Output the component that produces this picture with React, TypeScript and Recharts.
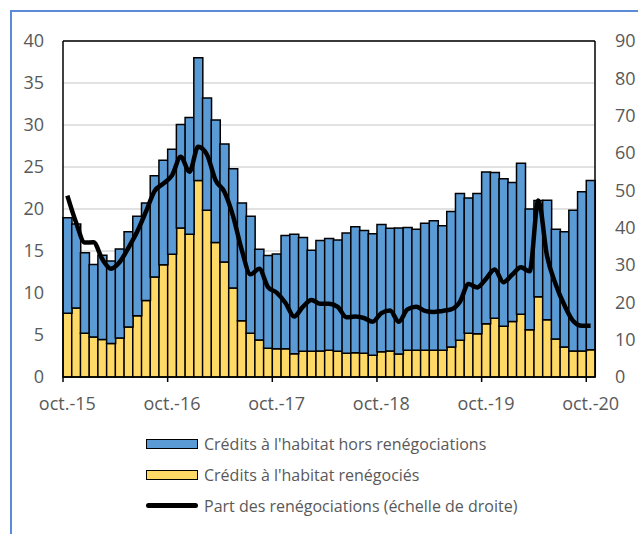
import React from 'react';
import {
  ComposedChart,
  Bar,
  Line,
  XAxis,
  YAxis,
  CartesianGrid,
  Legend,
  ReferenceLine,
} from 'recharts';

// Month abbreviations and years used to build the monthly categories (oct.-15 ... oct.-20)
const MONTH_NAMES = ['oct.', 'nov.', 'déc.', 'janv.', 'févr.', 'mars', 'avr.', 'mai', 'juin', 'juil.', 'août', 'sept.'];
const FIRST_YEAR = 15;
const N_MONTHS = 61;
const months: string[] = Array.from({ length: N_MONTHS }, (_, i) => {
  const yr = FIRST_YEAR + Math.floor((i + 9) / 12);
  return `${MONTH_NAMES[i % 12]}-${yr}`;
});

// Crédits à l'habitat renégociés (Md€, left scale)
const renegocies = [
  7.6, 8.2, 5.2, 4.75, 4.45, 4.0, 4.65, 5.95, 7.3, 9.1, 11.9, 13.35,
  14.6, 17.75, 17.0, 23.4, 19.85, 16.0, 13.7, 10.6, 6.7, 5.2, 4.4, 3.43,
  3.35, 3.35, 2.76, 3.06, 3.06, 3.1, 3.17, 3.06, 2.82, 2.9, 2.82, 2.6,
  3.02, 3.1, 2.74, 3.17, 3.17, 3.17, 3.17, 3.17, 3.57, 4.37, 5.2, 5.16,
  6.35, 6.98, 6.03, 6.6, 7.46, 5.63, 9.56, 6.83, 4.52, 3.57, 3.1, 3.1,
  3.25,
];

// Crédits à l'habitat hors renégociations (Md€, left scale)
const horsRenegociations = [
  11.35, 10.0, 9.6, 8.65, 10.05, 9.8, 10.6, 11.35, 11.85, 11.6, 12.05, 12.45,
  12.5, 12.3, 13.9, 14.6, 13.35, 14.6, 14.05, 14.2, 14.0, 13.95, 10.8, 11.02,
  11.3, 13.5, 14.24, 13.54, 12.04, 13.15, 13.33, 13.24, 14.33, 15.0, 14.63, 14.45,
  15.13, 14.6, 15.01, 14.63, 14.43, 15.13, 15.43, 14.83, 16.13, 17.48, 16.1, 16.69,
  18.05, 17.37, 17.57, 16.55, 17.99, 14.37, 11.44, 14.22, 13.08, 13.73, 16.75, 18.95,
  20.15,
];

// Part des renégociations (%, right scale)
const partRenegociations = [
  48.6, 41.4, 36.0, 36.1, 31.6, 29.0, 30.8, 34.6, 38.9, 44.2, 49.8, 51.8,
  54.0, 59.0, 55.0, 61.7, 59.6, 52.7, 49.6, 43.1, 34.0, 27.5, 29.0, 24.1,
  22.6, 19.9, 16.2, 18.8, 20.6, 19.6, 19.6, 18.8, 16.0, 16.2, 15.8, 14.8,
  17.1, 17.8, 14.8, 18.1, 18.8, 17.7, 17.4, 17.7, 18.1, 20.1, 24.9, 24.0,
  26.3, 28.8, 25.4, 27.4, 29.4, 28.3, 47.3, 32.4, 24.8, 19.2, 15.0, 13.7,
  13.7,
];

const leftTicks = [0, 5, 10, 15, 20, 25, 30, 35, 40];
const rightTicks = [0, 10, 20, 30, 40, 50, 60, 70, 80, 90];
// Category indices (every October) where year boundaries / grid lines fall
const yearStartIndices = [12, 24, 36, 48, 60];

const SERIES_NAMES = {
  hors: "Crédits à l'habitat hors renégociations",
  reneg: "Crédits à l'habitat renégociés",
  part: 'Part des renégociations (échelle de droite)',
};

const data = months.map((m, i) => ({
  month: m,
  reneg: renegocies[i],
  hors: horsRenegociations[i],
  part: partRenegociations[i],
}));

const BLUE = '#5b9bd5';
const YELLOW = '#ffd966';
const TEXT = '#595959';
const FONT = '"Open Sans", sans-serif';

const XTick = (props: any) => {
  const { x, y, payload } = props;
  const half = payload && typeof payload.offset === 'number' ? payload.offset : 0;
  return (
    <g>
      <line x1={x - half} x2={x - half} y1={y} y2={y + 5} stroke="#000" strokeWidth={1.5} />
      <text
        x={x}
        y={y + 26}
        textAnchor="middle"
        dominantBaseline="central"
        fill={TEXT}
        fontSize={18}
        fontFamily={FONT}
      >
        {payload.value}
      </text>
    </g>
  );
};

const gridVertical = (args: any) => {
  const xAxis = args && args.xAxis;
  const s = xAxis && xAxis.scale;
  if (typeof s === 'function') {
    return yearStartIndices.map((i) => s(months[i]));
  }
  return [];
};

const LEGEND_ORDER = ['hors', 'reneg', 'part'];

const renderLegend = (props: any) => {
  const payload = [...(props.payload || [])].sort(
    (a: any, b: any) => LEGEND_ORDER.indexOf(a.dataKey) - LEGEND_ORDER.indexOf(b.dataKey)
  );
  return (
    <div
      style={{
        height: 100,
        paddingLeft: 138,
        paddingTop: 2,
        boxSizing: 'border-box',
        fontFamily: FONT,
      }}
    >
      {payload.map((p: any) => (
        <div key={p.dataKey} style={{ display: 'flex', alignItems: 'center', height: 31 }}>
          {p.dataKey === 'part' ? (
            <div style={{ width: 52, height: 5, background: '#000', borderRadius: 3 }} />
          ) : (
            <div
              style={{
                width: 52,
                height: 10,
                background: p.dataKey === 'hors' ? BLUE : YELLOW,
                border: '1.5px solid #000',
                boxSizing: 'border-box',
              }}
            />
          )}
          <span style={{ marginLeft: 6, fontSize: 16, color: TEXT, whiteSpace: 'nowrap' }}>{p.value}</span>
        </div>
      ))}
    </div>
  );
};

export default function App() {
  return (
    <div style={{ position: 'relative', width: 638, height: 534, overflow: 'hidden' }}>
      <style>{'html,body{margin:0;padding:0;overflow:hidden;}'}</style>
      <div
        style={{
          position: 'absolute',
          left: 10,
          top: 10,
          width: 800,
          height: 800,
          borderLeft: '2px solid #5a8ad8',
          borderTop: '2px solid #5a8ad8',
          pointerEvents: 'none',
        }}
      />
      <div style={{ position: 'absolute', left: 8, top: 8, width: 630, height: 518 }}>
        <ComposedChart
          width={630}
          height={518}
          data={data}
          margin={{ top: 33, right: 0, left: 0, bottom: 0 }}
          barCategoryGap={0}
          barGap={0}
          style={{ overflow: 'visible' }}
        >
          <CartesianGrid
            yAxisId="left"
            stroke="#d9d9d9"
            strokeWidth={1.5}
            verticalCoordinatesGenerator={gridVertical}
          />
          <XAxis
            dataKey="month"
            interval={11}
            height={49}
            tickSize={0}
            tickMargin={0}
            tickLine={false}
            axisLine={{ stroke: '#000', strokeWidth: 1.5 }}
            tick={<XTick />}
          />
          <YAxis
            yAxisId="left"
            orientation="left"
            width={55}
            domain={[0, 40]}
            ticks={leftTicks}
            interval={0}
            tickSize={0}
            tickMargin={19}
            tickLine={false}
            axisLine={{ stroke: '#000', strokeWidth: 1.5 }}
            tick={{ fill: TEXT, fontSize: 18, fontFamily: FONT }}
          />
          <YAxis
            yAxisId="right"
            orientation="right"
            width={43}
            domain={[0, 90]}
            ticks={rightTicks}
            interval={0}
            tickSize={0}
            tickMargin={20}
            tickLine={false}
            axisLine={{ stroke: '#000', strokeWidth: 1.5 }}
            tick={{ fill: TEXT, fontSize: 18, fontFamily: FONT, textAnchor: 'start' }}
          />
          <Bar
            yAxisId="left"
            dataKey="reneg"
            name={SERIES_NAMES.reneg}
            stackId="s"
            fill={YELLOW}
            stroke="#000"
            strokeWidth={1.5}
            isAnimationActive={false}
          />
          <Bar
            yAxisId="left"
            dataKey="hors"
            name={SERIES_NAMES.hors}
            stackId="s"
            fill={BLUE}
            stroke="#000"
            strokeWidth={1.5}
            isAnimationActive={false}
          />
          <Line
            yAxisId="right"
            dataKey="part"
            name={SERIES_NAMES.part}
            type="monotone"
            stroke="#000"
            strokeWidth={4.5}
            dot={false}
            activeDot={false}
            isAnimationActive={false}
          />
          <ReferenceLine yAxisId="left" y={40} stroke="#000" strokeWidth={1.5} />
          <Legend
            verticalAlign="bottom"
            align="left"
            content={renderLegend}
            wrapperStyle={{ left: 0, bottom: 0 }}
          />
        </ComposedChart>
      </div>
    </div>
  );
}
